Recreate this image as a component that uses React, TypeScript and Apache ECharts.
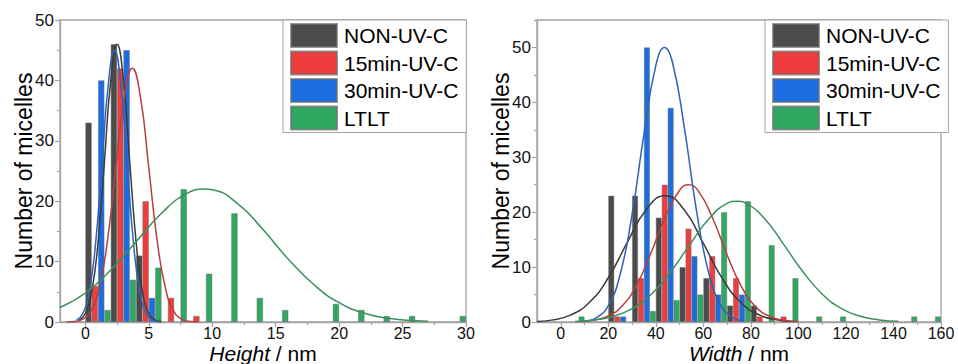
import React, { useEffect, useRef } from 'react';
import * as echarts from 'echarts';

// ---------- data ----------
const seriesNames = ['NON-UV-C', '15min-UV-C', '30min-UV-C', 'LTLT'];

// Height histogram: bins of 2 nm, one sub-bar per sample
const heightBinStarts = [0, 2, 4, 6, 8, 10, 12, 14, 16, 18, 20, 22, 24, 26, 28];
const heightNon = [33, 46, 11, 0, 0, 0, 0, 0, 0, 0, 0, 0, 0, 0, 0];
const height15 = [6, 42, 20, 4, 1, 0, 0, 0, 0, 0, 0, 0, 0, 0, 0];
const height30 = [40, 45, 4, 0, 0, 0, 0, 0, 0, 0, 0, 0, 0, 0, 0];
const heightLTLT = [2, 7, 9, 22, 8, 18, 4, 2, 0, 3, 2, 1, 1, 0, 1];

// Width histogram: bins of 10 nm
const widthBinStarts = [0, 10, 20, 30, 40, 50, 60, 70, 80, 90, 100, 110, 120, 130, 140, 150];
const widthNon = [0, 0, 23, 23, 19, 10, 8, 3, 3, 0, 0, 0, 0, 0, 0, 0];
const width15 = [0, 0, 1, 8, 25, 17, 12, 8, 1, 1, 0, 0, 0, 0, 0, 0];
const width30 = [0, 0, 1, 50, 39, 12, 5, 5, 0, 0, 0, 0, 0, 0, 0, 0];
const widthLTLT = [1, 0, 0, 2, 4, 5, 20, 22, 14, 8, 1, 1, 0, 0, 1, 1];

// Fitted distribution curves as [x, count]
const heightFitNon = [[-0.5, 0.3], [0, 1.4], [0.5, 5], [1, 13.2], [1.5, 26.4], [2, 40], [2.5, 46], [3, 40], [3.5, 26.4], [4, 13.2], [4.5, 5], [5, 1.4], [5.5, 0.3], [6, 0.05]];
const heightFit15 = [[-1.5, 0.01], [-0.85, 0.09], [-0.2, 0.47], [0.45, 1.84], [1.1, 5.7], [1.75, 13.6], [2.4, 25.5], [3.05, 37.1], [3.7, 42], [4.35, 37.1], [5, 25.5], [5.65, 13.6], [6.3, 5.7], [6.95, 1.84], [7.6, 0.47], [8.25, 0.09], [8.9, 0.01]];
const heightFit30 = [[-0.7, 0.3], [-0.2, 1.4], [0.3, 4.9], [0.8, 12.9], [1.3, 25.9], [1.8, 39.2], [2.3, 45], [2.8, 39.2], [3.3, 25.9], [3.8, 12.9], [4.3, 4.9], [4.8, 1.4], [5.3, 0.3], [5.8, 0.05]];
const heightFitLTLT = [[-2, 2.4], [0, 4.8], [2, 8.6], [4, 13.3], [6, 18], [8, 21.3], [9.4, 22], [10, 21.9], [12, 19.6], [14, 15.3], [16, 10.4], [18, 6.2], [20, 3.2], [22, 1.45], [24, 0.57], [26, 0.19], [27, 0.11]];

const widthFitNon = [[-10, 0.11], [-4, 0.34], [4, 1.24], [12, 3.55], [20, 8.06], [28, 14.5], [36, 20.5], [43.9, 23], [52, 20.4], [60, 14.3], [68, 7.9], [76, 3.47], [84, 1.2], [92, 0.33], [98, 0.11]];
const widthFit15 = [[8, 0.08], [14, 0.32], [20, 1.09], [26, 3], [32, 6.8], [38, 12.6], [44, 19.2], [50, 24], [53.8, 25], [58, 23.8], [64, 18.8], [70, 12.2], [76, 6.5], [82, 2.8], [88, 1.0], [94, 0.3], [100, 0.07]];
const widthFit30 = [[10, 0.17], [15, 0.81], [20, 3.0], [25, 8.7], [30, 19.6], [35, 34.2], [40, 46.7], [43.7, 50], [47, 47.3], [52, 35.4], [57, 20.6], [62, 9.4], [67, 3.3], [72, 0.91], [77, 0.2]];
const widthFitLTLT = [[6, 0.11], [14, 0.37], [22, 1.01], [30, 2.43], [38, 5.0], [46, 9.0], [54, 13.9], [62, 18.6], [70, 21.6], [74.1, 22], [78, 21.6], [86, 18.7], [94, 14.0], [102, 9.1], [110, 5.1], [118, 2.47], [126, 1.04], [134, 0.38], [142, 0.12]];

// tick labels
const heightMajorTicks = [0, 5, 10, 15, 20, 25, 30];
const heightMinorTicks = [2.5, 7.5, 12.5, 17.5, 22.5, 27.5];
const widthMajorTicks = [0, 20, 40, 60, 80, 100, 120, 140, 160];
const widthMinorTicks = [10, 30, 50, 70, 90, 110, 130, 150];
const countMajorTicks = [0, 10, 20, 30, 40, 50];
const countMinorTicksLeft = [5, 15, 25, 35, 45];
const countMinorTicksRight = [5, 15, 25, 35, 45, 55];

// ---------- styles ----------
const FONT = "'Liberation Sans', Arial, Helvetica, sans-serif";
const barColors = ['#4b4b4b', '#ef3d3d', '#1c6de2', '#30a862'];
const lineColors = ['#3c3c3c', '#b6403f', '#2e62b6', '#3e8f5d'];
const AXIS_COLOR = '#a3a3a3';

function barData(starts: number[], values: number[], offset: number) {
  const out: number[][] = [];
  values.forEach((v, i) => {
    if (v > 0) out.push([starts[i] + offset, v]);
  });
  return out;
}

function mainXAxis(gridIndex: number, min: number, max: number, ticks: number[], name: string) {
  return {
    gridIndex, type: 'value', min, max, position: 'bottom',
    axisLine: { show: true, onZero: false, lineStyle: { color: AXIS_COLOR, width: 1.3 } },
    axisTick: { show: true, length: 5, customValues: ticks, lineStyle: { color: AXIS_COLOR, width: 1.2 } },
    axisLabel: { show: true, customValues: ticks, fontSize: 16, lineHeight: 14, color: '#111', fontFamily: FONT, margin: 4 },
    splitLine: { show: false },
    name, nameLocation: 'middle', nameGap: 21, nameMoveOverlap: false,
    nameTextStyle: {
      fontSize: 21, color: '#000', fontFamily: FONT, lineHeight: 20,
      rich: { i: { fontSize: 21, lineHeight: 20, fontStyle: 'italic', fontFamily: FONT, color: '#000' } },
    },
  };
}
function minorXAxis(gridIndex: number, min: number, max: number, ticks: number[]) {
  return {
    gridIndex, type: 'value', min, max, position: 'bottom',
    axisLine: { show: false, onZero: false },
    axisTick: { show: true, length: 3, customValues: ticks, lineStyle: { color: AXIS_COLOR, width: 1.2 } },
    axisLabel: { show: false },
    splitLine: { show: false },
  };
}
function mainYAxis(gridIndex: number, max: number) {
  return {
    gridIndex, type: 'value', min: 0, max, position: 'left',
    axisLine: { show: true, onZero: false, lineStyle: { color: AXIS_COLOR, width: 1.3 } },
    axisTick: { show: true, length: 5, customValues: countMajorTicks, lineStyle: { color: AXIS_COLOR, width: 1.2 } },
    axisLabel: { show: true, customValues: countMajorTicks, fontSize: 17, color: '#111', fontFamily: FONT, margin: 6 },
    splitLine: { show: false },
    name: 'Number of micelles', nameLocation: 'middle', nameGap: 25, nameMoveOverlap: false,
    nameTextStyle: { fontSize: 23, color: '#000', fontFamily: FONT, lineHeight: 23 },
  };
}
function minorYAxis(gridIndex: number, max: number, ticks: number[]) {
  return {
    gridIndex, type: 'value', min: 0, max, position: 'left',
    axisLine: { show: false, onZero: false },
    axisTick: { show: true, length: 3, customValues: ticks, lineStyle: { color: AXIS_COLOR, width: 1.2 } },
    axisLabel: { show: false },
    splitLine: { show: false },
  };
}

function buildSeries(
  axisIndex: number,
  starts: number[],
  values: number[][],
  offsets: number[],
  barWidth: number,
  fits: number[][][],
) {
  const out: any[] = [];
  values.forEach((vals, k) => {
    out.push({
      type: 'bar', name: seriesNames[k], xAxisIndex: axisIndex, yAxisIndex: axisIndex,
      data: barData(starts, vals, offsets[k]), barWidth, barGap: '-100%',
      itemStyle: { color: barColors[k], borderColor: 'rgba(110,110,110,0.7)', borderWidth: 0.7 },
      z: 2,
    });
  });
  fits.forEach((pts, k) => {
    out.push({
      type: 'line', name: seriesNames[k] + ' fit', xAxisIndex: axisIndex, yAxisIndex: axisIndex,
      data: pts, smooth: 0.5, showSymbol: false, symbol: 'none',
      lineStyle: { color: lineColors[k], width: 1.5 }, z: 5,
    });
  });
  return out;
}

function legendBox(left: number) {
  return {
    data: seriesNames, orient: 'vertical', left, top: 20,
    itemWidth: 46, itemHeight: 23, itemGap: 2.5, icon: 'rect',
    padding: [3, 8, 2, 7], borderColor: '#a3a3a3', borderWidth: 1, backgroundColor: '#fff',
    selectedMode: false,
    textStyle: { fontSize: 21, color: '#000', fontFamily: FONT, padding: [0, 0, 0, 2] },
    z: 10,
  };
}

const gridBase = {
  top: 20, height: 302, show: true, borderColor: AXIS_COLOR, borderWidth: 1.3,
  backgroundColor: 'transparent', containLabel: false, outerBoundsMode: 'none',
};

const option = {
  animation: false,
  backgroundColor: '#fff',
  textStyle: { fontFamily: FONT },
  grid: [
    { ...gridBase, left: 60, width: 406 },
    { ...gridBase, left: 537, width: 404 },
  ],
  xAxis: [
    mainXAxis(0, -2, 30, heightMajorTicks, '{i|Height} / nm'),
    mainXAxis(1, -10, 160, widthMajorTicks, '{i|Width} / nm'),
    minorXAxis(0, -2, 30, heightMinorTicks),
    minorXAxis(1, -10, 160, widthMinorTicks),
  ],
  yAxis: [
    mainYAxis(0, 50),
    mainYAxis(1, 55),
    minorYAxis(0, 50, countMinorTicksLeft),
    minorYAxis(1, 55, countMinorTicksRight),
  ],
  legend: [legendBox(283), legendBox(765)],
  series: [
    ...buildSeries(0, heightBinStarts, [heightNon, height15, height30, heightLTLT], [0.25, 0.75, 1.25, 1.75], 6.35,
      [heightFitNon, heightFit15, heightFit30, heightFitLTLT]),
    ...buildSeries(1, widthBinStarts, [widthNon, width15, width30, widthLTLT], [1.25, 3.75, 6.25, 8.75], 5.94,
      [widthFitNon, widthFit15, widthFit30, widthFitLTLT]),
  ],
};

export default function App() {
  const ref = useRef<HTMLDivElement>(null);
  useEffect(() => {
    if (!ref.current) return;
    const chart = echarts.init(ref.current, null, { renderer: 'svg' });
    chart.setOption(option as any);
    return () => chart.dispose();
  }, []);
  return (
    <div
      ref={ref}
      style={{ position: 'fixed', left: 0, top: 0, width: 958, height: 364, background: '#fff' }}
    />
  );
}
